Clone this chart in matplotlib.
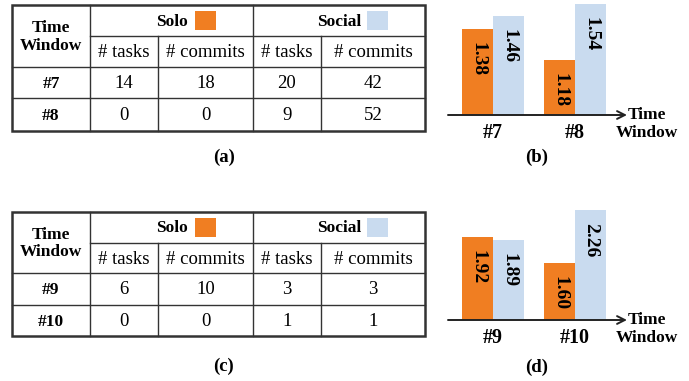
import matplotlib
matplotlib.use("Agg")
import matplotlib.pyplot as plt
from matplotlib.transforms import offset_copy
from matplotlib.patches import Rectangle

plt.rcParams['font.family'] = ['Liberation Serif', 'DejaVu Serif']

# ---- data ----
windows_ab = ['#7', '#8']
solo_tasks_ab = [14, 0]
solo_commits_ab = [18, 0]
social_tasks_ab = [20, 9]
social_commits_ab = [42, 52]
solo_ratio_ab = [1.38, 1.18]
social_ratio_ab = [1.46, 1.54]

windows_cd = ['#9', '#10']
solo_tasks_cd = [6, 0]
solo_commits_cd = [10, 0]
social_tasks_cd = [3, 1]
social_commits_cd = [3, 1]
solo_ratio_cd = [1.92, 1.60]
social_ratio_cd = [1.89, 2.26]

group_labels = ['Solo', 'Social']
sub_labels = ['# tasks', '# commits', '# tasks', '# commits']

ORANGE = '#F07E22'
BLUE = '#C9DBEF'
LINE = '#333333'

W, H = 689, 381
fig = plt.figure(figsize=(W / 100, H / 100), dpi=100)

# canvas axes in pixel units for the tables and captions
canvas = fig.add_axes([0, 0, 1, 1])
canvas.set_xlim(0, W)
canvas.set_ylim(H, 0)
canvas.axis('off')

col_x = [12, 90, 158, 253, 321, 425]
# header text centres and swatch left edges (pixels)
group_text_x = [172, 339]
swatch_x = [195, 367]


def draw_table(top, row_h, windows, cols):
    ys = [top + sum(row_h[:i]) for i in range(len(row_h) + 1)]
    x0, x1 = col_x[0], col_x[-1]
    # outer frame
    canvas.add_patch(Rectangle((x0, ys[0]), x1 - x0, ys[-1] - ys[0],
                               fill=False, lw=1.8, ec=LINE))
    # horizontal rules
    canvas.plot([col_x[1], x1], [ys[1], ys[1]], color=LINE, lw=1)
    for y in ys[2:-1]:
        canvas.plot([x0, x1], [y, y], color=LINE, lw=1)
    # vertical rules
    for x in (col_x[1], col_x[3]):
        canvas.plot([x, x], [ys[0], ys[-1]], color=LINE, lw=1)
    for x in (col_x[2], col_x[4]):
        canvas.plot([x, x], [ys[1], ys[-1]], color=LINE, lw=1)

    bold = dict(fontsize=12.5, fontweight='bold', ha='center', va='center')
    norm = dict(fontsize=13.5, ha='center', va='center')

    canvas.text((col_x[0] + col_x[1]) / 2, (ys[0] + ys[2]) / 2 + 1,
                'Time\nWindow', linespacing=1.15, **bold)

    # group headers with colour swatches
    for gi, (name, color) in enumerate(zip(group_labels, [ORANGE, BLUE])):
        cy = (ys[0] + ys[1]) / 2
        canvas.text(group_text_x[gi], cy + 1, name, **bold)
        canvas.add_patch(Rectangle((swatch_x[gi], cy - 9.5), 21, 19, color=color, lw=0))

    for ci, lab in enumerate(sub_labels):
        canvas.text((col_x[1 + ci] + col_x[2 + ci]) / 2, (ys[1] + ys[2]) / 2 + 1,
                    lab, **norm)

    for ri, win in enumerate(windows):
        cy = (ys[2 + ri] + ys[3 + ri]) / 2 + 1
        canvas.text((col_x[0] + col_x[1]) / 2, cy, win, **bold)
        for ci, col in enumerate(cols):
            canvas.text((col_x[1 + ci] + col_x[2 + ci]) / 2, cy, str(col[ri]), **norm)


draw_table(5, [31, 31, 31, 33], windows_ab,
           [solo_tasks_ab, solo_commits_ab, social_tasks_ab, social_commits_ab])
draw_table(212, [31, 30, 32, 31], windows_cd,
           [solo_tasks_cd, solo_commits_cd, social_tasks_cd, social_commits_cd])

cap = dict(fontsize=13.5, fontweight='bold', ha='center', va='center')
canvas.text(224, 157, '(a)', **cap)
canvas.text(537, 157, '(b)', **cap)
canvas.text(224, 366, '(c)', **cap)
canvas.text(537, 367, '(d)', **cap)


def draw_bars(base_px, y_bottom, px_per_unit, windows, solo, social):
    ax_h = 115
    left_px, right_px = 448, 627
    group_px = [493, 575]
    step = group_px[1] - group_px[0]
    xmin = (left_px - group_px[0]) / step
    xmax = (right_px - group_px[0]) / step
    ax = fig.add_axes([left_px / W, 1 - base_px / H,
                       (right_px - left_px) / W, ax_h / H])
    ax.set_xlim(xmin, xmax)
    ax.set_ylim(y_bottom, y_bottom + ax_h / px_per_unit)
    for s in ax.spines.values():
        s.set_visible(False)
    ax.set_yticks([])
    width = 31 / step
    xs = list(range(len(windows)))
    ax.bar([x - width / 2 for x in xs], [v - y_bottom for v in solo],
           width=width, bottom=y_bottom, color=ORANGE, lw=0)
    ax.bar([x + width / 2 for x in xs], [v - y_bottom for v in social],
           width=width, bottom=y_bottom, color=BLUE, lw=0)
    tr = offset_copy(ax.transData, fig=fig, x=0, y=-9.4, units='points')
    for x, v in zip(xs, solo):
        ax.text(x - width / 2, v, f'{v:.2f}', rotation=-90, ha='center', va='top',
                fontsize=14, fontweight='bold', transform=tr, clip_on=False)
    for x, v in zip(xs, social):
        ax.text(x + width / 2, v, f'{v:.2f}', rotation=-90, ha='center', va='top',
                fontsize=14, fontweight='bold', transform=tr, clip_on=False)
    ax.annotate('', xy=(xmax, y_bottom), xytext=(xmin, y_bottom),
                xycoords='data', annotation_clip=False,
                arrowprops=dict(arrowstyle='->', color='#222222', lw=1.4,
                                shrinkA=0, shrinkB=0, mutation_scale=14))
    ax.set_xticks(xs)
    ax.set_xticklabels(windows, fontsize=14.5, fontweight='bold')
    ax.tick_params(axis='x', length=0, pad=6)
    canvas.text(647, base_px + 9, 'Time\nWindow', fontsize=12.5, fontweight='bold',
                ha='center', va='center', linespacing=1.1)


draw_bars(115, 0.82, 154, windows_ab, solo_ratio_ab, social_ratio_ab)
draw_bars(320, 0.89, 80.3, windows_cd, solo_ratio_cd, social_ratio_cd)

fig.savefig('out.png', dpi=100)
